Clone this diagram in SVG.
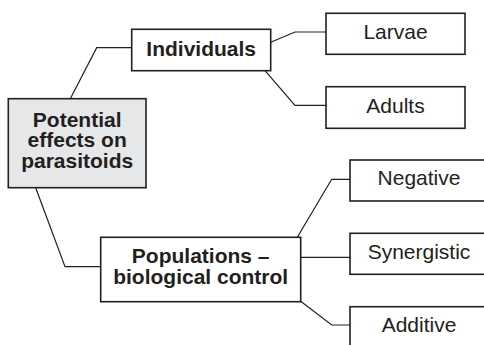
<svg xmlns="http://www.w3.org/2000/svg" width="484" height="345" viewBox="0 0 484 345">
<style>
.box{fill:#ffffff;stroke:#231f20;stroke-width:1.6}
.root{fill:#e6e7e8;stroke:#231f20;stroke-width:1.6}
.conn{fill:none;stroke:#231f20;stroke-width:1.2}
.b{font-family:"Liberation Sans",Arial,sans-serif;font-weight:bold;font-size:21px;fill:#231f20;text-anchor:middle}
.r{font-family:"Liberation Sans",Arial,sans-serif;font-size:21px;fill:#231f20;text-anchor:middle}
</style>
<rect width="484" height="345" fill="#ffffff"/>
<g id="connectors">
<polyline class="conn" points="70.3,98.7 96.7,47.7 131.7,47.7"/>
<polyline class="conn" points="35.7,187.7 65,266.7 100.7,266.7"/>
<polyline class="conn" points="270.7,42.3 295,32 326,32"/>
<polyline class="conn" points="265,70.7 295,105.3 326,105.3"/>
<polyline class="conn" points="297.3,237.3 331.7,179.3 350,179.3"/>
<polyline class="conn" points="300.7,257.3 350,257.3"/>
<polyline class="conn" points="300,300.7 331.7,325 350,325"/>
</g>
<g id="root">
<rect class="root" x="8.3" y="98.7" width="137.7" height="89"/>
<text class="b" x="77.2" y="126.5">Potential</text>
<text class="b" x="77.2" y="147">effects on</text>
<text class="b" x="77.2" y="167.5">parasitoids</text>
</g>
<g id="individuals">
<rect class="box" x="131.7" y="29.3" width="139" height="41.4"/>
<text class="b" x="201.2" y="56">Individuals</text>
</g>
<g id="populations">
<rect class="box" x="100.7" y="237.3" width="200" height="64.4"/>
<text class="b" x="200.7" y="263.3">Populations –</text>
<text class="b" x="200.7" y="284">biological control</text>
</g>
<g id="larvae">
<rect class="box" x="326" y="13.3" width="139" height="41"/>
<text class="r" x="395.5" y="38.5">Larvae</text>
</g>
<g id="adults">
<rect class="box" x="326" y="86.7" width="139" height="41.6"/>
<text class="r" x="395.5" y="113.3">Adults</text>
</g>
<g id="negative">
<rect class="box" x="350" y="160" width="139" height="41"/>
<text class="r" x="419" y="185">Negative</text>
</g>
<g id="synergistic">
<rect class="box" x="350" y="233.3" width="139" height="41"/>
<text class="r" x="419" y="259">Synergistic</text>
</g>
<g id="additive">
<rect class="box" x="350" y="306.7" width="139" height="41"/>
<text class="r" x="419" y="332.3">Additive</text>
</g>
</svg>
